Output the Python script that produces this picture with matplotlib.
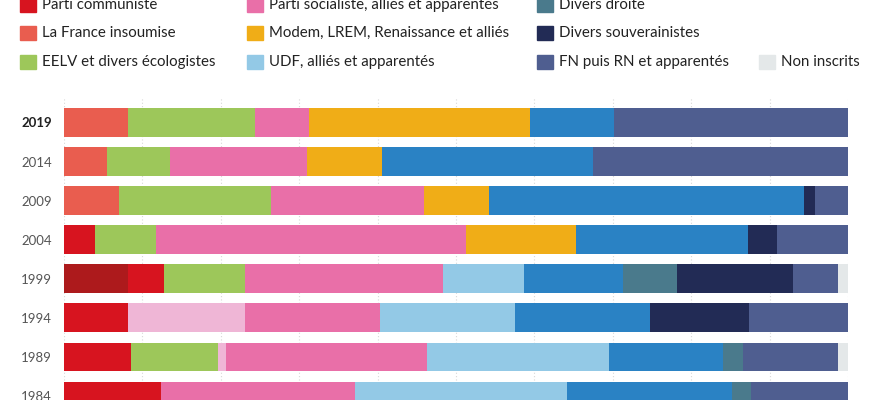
import matplotlib
matplotlib.use("Agg")
import matplotlib.pyplot as plt
from matplotlib.patches import Rectangle
import numpy as np

plt.rcParams['font.family'] = ['Lato', 'DejaVu Sans']

# years, top to bottom
years = ["2019", "2014", "2009", "2004", "1999", "1994", "1989", "1984"]

# share of seats (%) per group, in the order of the years above
parties = ["Extrême gauche", "Parti communiste", "La France insoumise",
           "EELV et divers écologistes", "Divers gauche",
           "Parti socialiste, alliés et apparentés",
           "Modem, LREM, Renaissance et alliés", "UDF, alliés et apparentés",
           "RPR, UMP, LR et apparentés", "Divers droite",
           "Divers souverainistes", "FN puis RN et apparentés", "Non inscrits"]
extreme_gauche = [0, 0, 0, 0, 8.2, 0, 0, 0]
communiste = [0, 0, 0, 4.0, 4.6, 8.1, 8.6, 12.4]
insoumise = [8.2, 5.5, 7.0, 0, 0, 0, 0, 0]
ecologistes = [16.2, 8.0, 19.4, 7.7, 10.3, 0, 11.0, 0]
divers_gauche = [0, 0, 0, 0, 0, 14.9, 1.1, 0]
socialiste = [6.8, 17.5, 19.5, 39.6, 25.2, 17.2, 25.5, 24.7]
modem = [28.3, 9.5, 8.3, 14.1, 0, 0, 0, 0]
udf = [0, 0, 0, 0, 10.3, 17.2, 23.2, 27.1]
lr = [10.7, 26.9, 40.2, 21.9, 12.6, 17.2, 14.6, 21.0]
divers_droite = [0, 0, 0, 0, 6.9, 0, 2.5, 2.4]
souverainistes = [0, 0, 1.4, 3.7, 14.8, 12.6, 0, 0]
fn_rn = [29.8, 32.5, 4.2, 9.1, 5.7, 12.6, 12.1, 12.4]
non_inscrits = [0, 0, 0, 0, 1.3, 0, 1.3, 0]

colors = ["#ad1a1c", "#d7141f", "#e95d4f", "#9dc75a", "#efb6d6", "#e96fa8",
          "#f0ad17", "#93c9e6", "#2a82c4", "#4a7a8c", "#222b55", "#4f5e90",
          "#e4e8e9"]

values = np.array([extreme_gauche, communiste, insoumise, ecologistes,
                   divers_gauche, socialiste, modem, udf, lr, divers_droite,
                   souverainistes, fn_rn, non_inscrits], dtype=float)
values = values / values.sum(axis=0) * 100

fig = plt.figure(figsize=(8.83, 4.0), dpi=100)
W, H = 883, 400
ax = fig.add_axes([64 / W, 0, (848 - 64) / W, (400 - 97) / H])

y = np.arange(len(years))
left = np.zeros(len(years))
for vals, col in zip(values, colors):
    ax.barh(y, vals, left=left, height=0.74, color=col, zorder=2)
    left += vals

ax.set_xlim(0, 100)
ax.set_ylim(7.1, -0.65)
ax.set_xticks(np.arange(0, 101, 10))
ax.xaxis.grid(True, color="#d8d8d8", linestyle=(0, (1, 2)), linewidth=0.8, zorder=0)
ax.tick_params(axis="x", length=0, labelbottom=False)
ax.tick_params(axis="y", length=0, pad=8.5)
for s in ax.spines.values():
    s.set_visible(False)
ax.set_yticks(y)
ax.set_yticklabels(years, fontsize=9.5, color="#555555")
ax.get_yticklabels()[0].set_color("#222222")
ax.get_yticklabels()[0].set_fontweight("bold")

# legend drawn by hand; first row lies above the visible area
col_x = [20, 247, 537, 759]
row_y = [-23, 5, 33, 62]
legend_items = [(0, 0, 0), (0, 1, 1), (0, 2, 2), (0, 3, 3),
                (1, 0, 4), (1, 1, 5), (1, 2, 6), (1, 3, 7),
                (2, 0, 8), (2, 1, 9), (2, 2, 10), (2, 3, 11),
                (3, 3, 12)]
for c, r, i in legend_items:
    x0, yc = col_x[c], row_y[r]
    fig.patches.append(Rectangle((x0 / W, 1 - (yc + 7) / H), 16 / W, 14 / H,
                                 transform=fig.transFigure, color=colors[i]))
    fig.text((x0 + 22) / W, 1 - yc / H, parties[i], fontsize=10.8,
             color="#222222", va="center", ha="left")

fig.savefig("out.png", dpi=100)
